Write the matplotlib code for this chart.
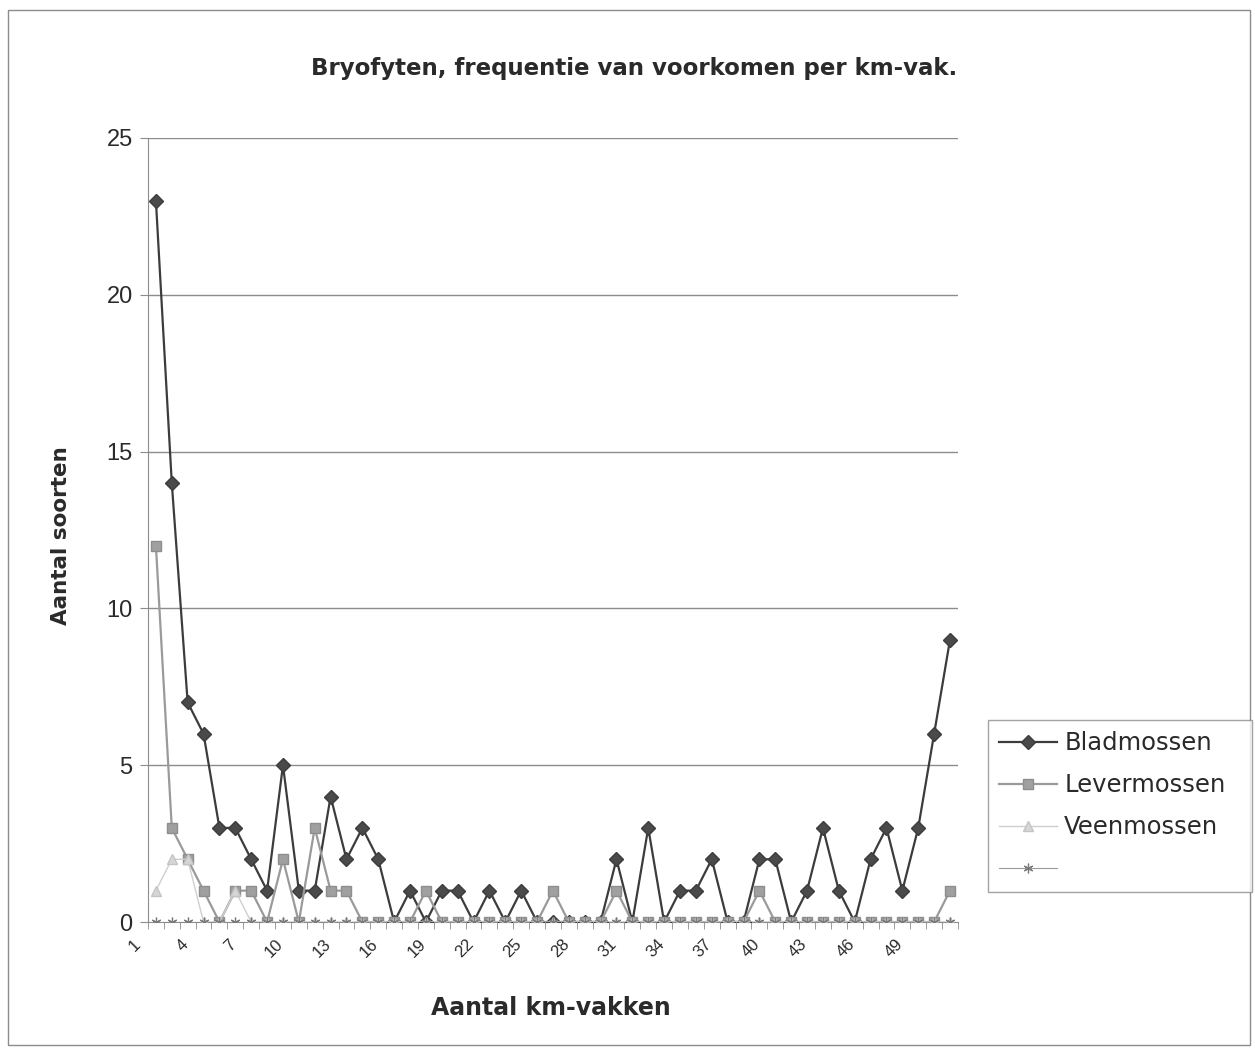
import matplotlib
matplotlib.use('Agg')
import matplotlib.pyplot as plt
import matplotlib.transforms as mtransforms
from matplotlib.patches import Rectangle

plt.rcParams['font.family'] = ['Liberation Sans', 'DejaVu Sans']

# aantal km-vakken (categorieën 1..51)
km_vakken = list(range(1, 52))

bladmossen = [23, 14, 7, 6, 3, 3, 2, 1, 5, 1, 1, 4, 2, 3, 2, 0, 1, 0, 1, 1,
              0, 1, 0, 1, 0, 0, 0, 0, 0, 2, 0, 3, 0, 1, 1, 2, 0, 0, 2, 2,
              0, 1, 3, 1, 0, 2, 3, 1, 3, 6, 9]
levermossen = [12, 3, 2, 1, 0, 1, 1, 0, 2, 0, 3, 1, 1, 0, 0, 0, 0, 1, 0, 0,
               0, 0, 0, 0, 0, 1, 0, 0, 0, 1, 0, 0, 0, 0, 0, 0, 0, 0, 1, 0,
               0, 0, 0, 0, 0, 0, 0, 0, 0, 0, 1]
veenmossen = [1, 2, 2, 0, 0, 1, 0, 0, 0, 0, 0, 0, 0, 0, 0, 0, 0, 0, 0, 0,
              0, 0, 0, 0, 0, 0, 0, 0, 0, 0, 0, 0, 0, 0, 0, 0, 0, 0, 0, 0,
              0, 0, 0, 0, 0, 0, 0, 0, 0, 0, 0]
vierde_reeks = [0] * 51

y_ticks = [0, 5, 10, 15, 20, 25]
x_labels = list(range(1, 52, 3))

fig = plt.figure(figsize=(12.55, 10.5), dpi=100)
ax = fig.add_axes([0.1179, 0.1219, 0.6454, 0.7467])

for y in y_ticks[1:]:
    ax.axhline(y, color='#8c8c8c', lw=1.0, zorder=0)

ax.plot(km_vakken, bladmossen, color='#3c3c3c', lw=1.6, marker='D',
        markersize=7, markerfacecolor='#4a4a4a', markeredgecolor='#3c3c3c',
        label='Bladmossen', zorder=3)
ax.plot(km_vakken, levermossen, color='#9a9a9a', lw=1.6, marker='s',
        markersize=7.5, markerfacecolor='#a0a0a0', markeredgecolor='#8e8e8e',
        label='Levermossen', zorder=4)
ax.plot(km_vakken, veenmossen, color='#cfcfcf', lw=1.0, marker='^',
        markersize=7, markerfacecolor='#d6d6d6', markeredgecolor='#c4c4c4',
        label='Veenmossen', zorder=5)
ax.plot(km_vakken, vierde_reeks, color='#9a9a9a', lw=0.8, marker=(6, 2, 0),
        markersize=7, markeredgecolor='#7a7a7a', markeredgewidth=0.9,
        label=' ', zorder=6)

ax.set_xlim(0.5, 51.5)
ax.set_ylim(0, 25)
ax.set_yticks(y_ticks)
ax.set_yticklabels([str(v) for v in y_ticks], fontsize=17, color='#2a2a2a')

# categorie-labels, schuin, iets links van het punt (zoals in Excel)
ax.set_xticks([k + 0.5 for k in range(0, 52)], minor=True)
ax.set_xticks([])
shift = mtransforms.ScaledTranslation(-0.18, -0.20, fig.dpi_scale_trans)
for k in x_labels:
    ax.text(k, 0, str(k), transform=ax.get_xaxis_transform() + shift,
            fontsize=12, rotation=45, ha='right', va='center',
            rotation_mode='anchor', color='#2a2a2a', clip_on=False)
ax.tick_params(axis='x', which='minor', length=5, color='#8c8c8c')
ax.tick_params(axis='y', length=6, color='#8c8c8c', pad=5)

for side in ['top', 'right']:
    ax.spines[side].set_visible(False)
ax.spines['left'].set_color('#8c8c8c')
ax.spines['bottom'].set_color('#8c8c8c')

fig.text(0.505, 0.935, 'Bryofyten, frequentie van voorkomen per km-vak.',
         ha='center', va='center', fontsize=16.5, fontweight='bold',
         family='DejaVu Sans', color='#2a2a2a')
fig.text(0.049, 0.49, 'Aantal soorten', rotation=90, ha='center',
         va='center', fontsize=15.5, fontweight='bold', family='DejaVu Sans',
         color='#2a2a2a')
fig.text(0.439, 0.040, 'Aantal km-vakken', ha='center', va='center',
         fontsize=17, fontweight='bold', family='DejaVu Sans',
         color='#2a2a2a')

handles, labels = ax.get_legend_handles_labels()
leg = fig.legend(handles, labels, loc='upper left',
                 bbox_to_anchor=(0.787, 0.154, 0.2104, 0.160), mode='expand',
                 fontsize=17.5, frameon=True, fancybox=False, handlelength=2.4,
                 handletextpad=0.3, labelspacing=0.74, borderpad=0.45,
                 borderaxespad=0)
leg.get_frame().set_edgecolor('#8c8c8c')
leg.get_frame().set_linewidth(1.0)
for t in leg.get_texts():
    t.set_family('DejaVu Sans')
    t.set_color('#2a2a2a')

fig.patches.append(Rectangle((0.0064, 0.0048), 0.9896, 0.9857,
                             transform=fig.transFigure, fill=False,
                             edgecolor='#8c8c8c', lw=1.0))

fig.savefig('out.png', dpi=100, facecolor='white')
